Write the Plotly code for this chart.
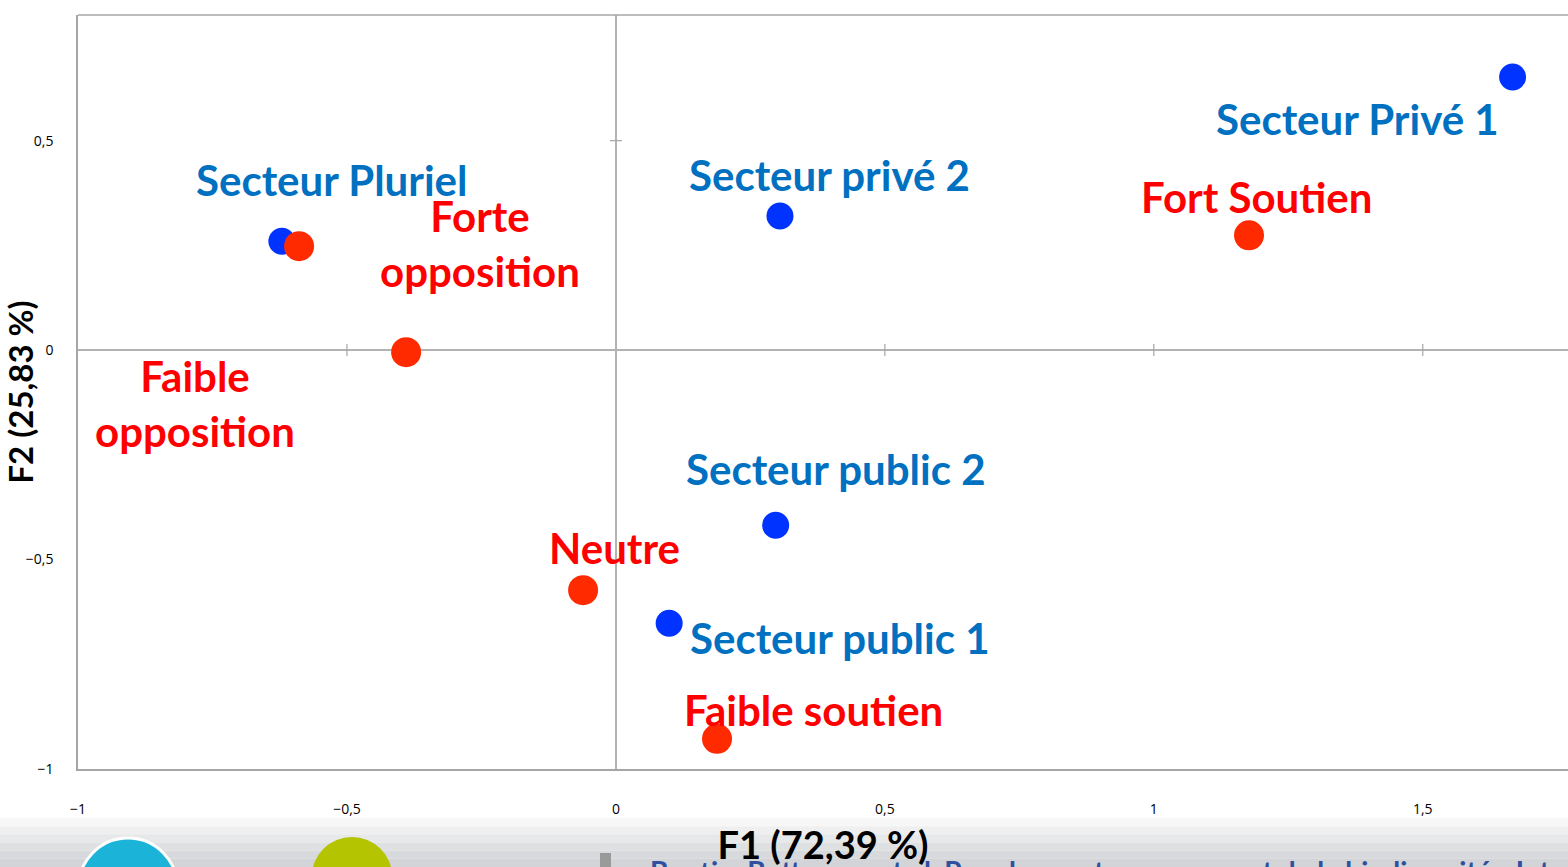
import plotly.graph_objects as go

# coordonnees des modalites (AFC)
secteurs = ["Secteur Pluriel", "Secteur privé 2", "Secteur Privé 1", "Secteur public 2", "Secteur public 1"]
sect_f1 = [-0.621, 0.305, 1.667, 0.297, 0.099]
sect_f2 = [0.260, 0.320, 0.652, -0.418, -0.652]

opinions = ["Forte<br>opposition", "Faible<br>opposition", "Fort Soutien", "Neutre", "Faible soutien"]
opin_f1 = [-0.589, -0.390, 1.177, -0.061, 0.188]
opin_f2 = [0.248, -0.005, 0.274, -0.573, -0.928]

# position des etiquettes
sect_lab_x = [-0.528, 0.398, 1.379, 0.409, 0.416]
sect_lab_y = [0.405, 0.418, 0.551, -0.284, -0.687]
opin_lab_x = [-0.253, -0.782, 1.190, -0.002, 0.368]
opin_lab_y = [0.255, -0.127, 0.365, -0.473, -0.859]

xticks = [-1, -0.5, 0, 0.5, 1, 1.5]
yticks = [-1, -0.5, 0, 0.5]

FONT = "Lato"
W, H = 1568, 867
L, R, T, B = 78, 0, 15, 98

fig = go.Figure()
fig.add_trace(go.Scatter(x=sect_f1, y=sect_f2, mode="markers",
                         marker=dict(color="#0033FF", size=27), hoverinfo="skip"))
fig.add_trace(go.Scatter(x=opin_f1, y=opin_f2, mode="markers",
                         marker=dict(color="#FF2A00", size=30), hoverinfo="skip"))

for t, x, y in zip(secteurs, sect_lab_x, sect_lab_y):
    fig.add_annotation(x=x, y=y, text=t, showarrow=False,
                       font=dict(family=FONT, size=42, color="#0070C0", weight="bold"))
for t, x, y in zip(opinions, opin_lab_x, opin_lab_y):
    fig.add_annotation(x=x, y=y, text=t, showarrow=False,
                       font=dict(family=FONT, size=42, color="#FF0000", weight="bold"))

# small cross ticks on zero lines
for v in [-0.5, 0.5, 1, 1.5]:
    fig.add_shape(type="line", xref="x", yref="y", x0=v, x1=v, ysizemode="pixel",
                  yanchor=0, y0=-6, y1=6, line=dict(color="#A6A6A6", width=1.2))
for v in [-0.5, 0.5]:
    fig.add_shape(type="line", xref="x", yref="y", y0=v, y1=v, xsizemode="pixel",
                  xanchor=0, x0=-6, x1=6, line=dict(color="#A6A6A6", width=1.2))

# top frame line
fig.add_shape(type="line", xref="paper", yref="paper", x0=0, x1=1, y0=1, y1=1,
              line=dict(color="#A6A6A6", width=1.5))

# slide footer (gradient band + logos + reference text)
ph = H - T - B
def py(p):
    return (H - B - p) / ph
def px(p):
    return (p - L) / (W - L - R)

grays = ["#F7F7F7", "#EFEFF0", "#E7E8E9", "#DFE0E2", "#D8D9DC", "#D2D4D7"]
band = (867 - 818) / len(grays)
for i, g in enumerate(grays):
    fig.add_shape(type="rect", xref="paper", yref="paper", layer="below",
                  x0=px(0), x1=px(W), y0=py(818 + (i + 1) * band), y1=py(818 + i * band),
                  fillcolor=g, line=dict(width=0))
fig.add_shape(type="circle", xref="paper", yref="paper", x0=px(78), x1=px(178),
              y0=py(940), y1=py(838), fillcolor="#1BB4D8", line=dict(color="white", width=3))
fig.add_shape(type="circle", xref="paper", yref="paper", x0=px(312), x1=px(392),
              y0=py(915), y1=py(837), fillcolor="#B5C400", line=dict(width=0))
fig.add_shape(type="rect", xref="paper", yref="paper", x0=px(600), x1=px(611),
              y0=py(867), y1=py(853), fillcolor="#9A9A9A", line=dict(width=0))
fig.add_annotation(xref="paper", yref="paper", x=px(648), y=py(852), xanchor="left", yanchor="top",
                   text="Boutin, Bottereau et al. Paradoxes et management de la biodiversité - Interactions",
                   showarrow=False, font=dict(family=FONT, size=28, color="#2F4F9F", weight="bold"))

fig.update_xaxes(range=[-1, 1.77], tickvals=xticks, showgrid=False,
                 zeroline=True, zerolinecolor="#B3B3B3", zerolinewidth=1.5,
                 showline=True, linecolor="#A6A6A6", linewidth=1.5,
                 ticks="", ticklabelstandoff=26,
                 tickfont=dict(family="Open Sans", size=14, color="black"),
                 title=dict(text="F1 (72,39 %)", standoff=22,
                            font=dict(family=FONT, size=38, color="black", weight="bold")))
fig.update_yaxes(range=[-1, 0.8], tickvals=yticks, showgrid=False,
                 zeroline=True, zerolinecolor="#B3B3B3", zerolinewidth=1.5,
                 showline=True, linecolor="#A6A6A6", linewidth=1.5,
                 ticks="", ticklabelstandoff=20,
                 tickfont=dict(family="Open Sans", size=14, color="black"),
                 title=dict(text="F2 (25,83 %)", standoff=4,
                            font=dict(family=FONT, size=33, color="black", weight="bold")))

fig.update_layout(width=W, height=H, margin=dict(l=L, r=R, t=T, b=B),
                  separators=", ", showlegend=False,
                  plot_bgcolor="white", paper_bgcolor="white")

fig.write_html("out.html", config={"displayModeBar": False},
               post_script="document.body.style.margin='0';")
